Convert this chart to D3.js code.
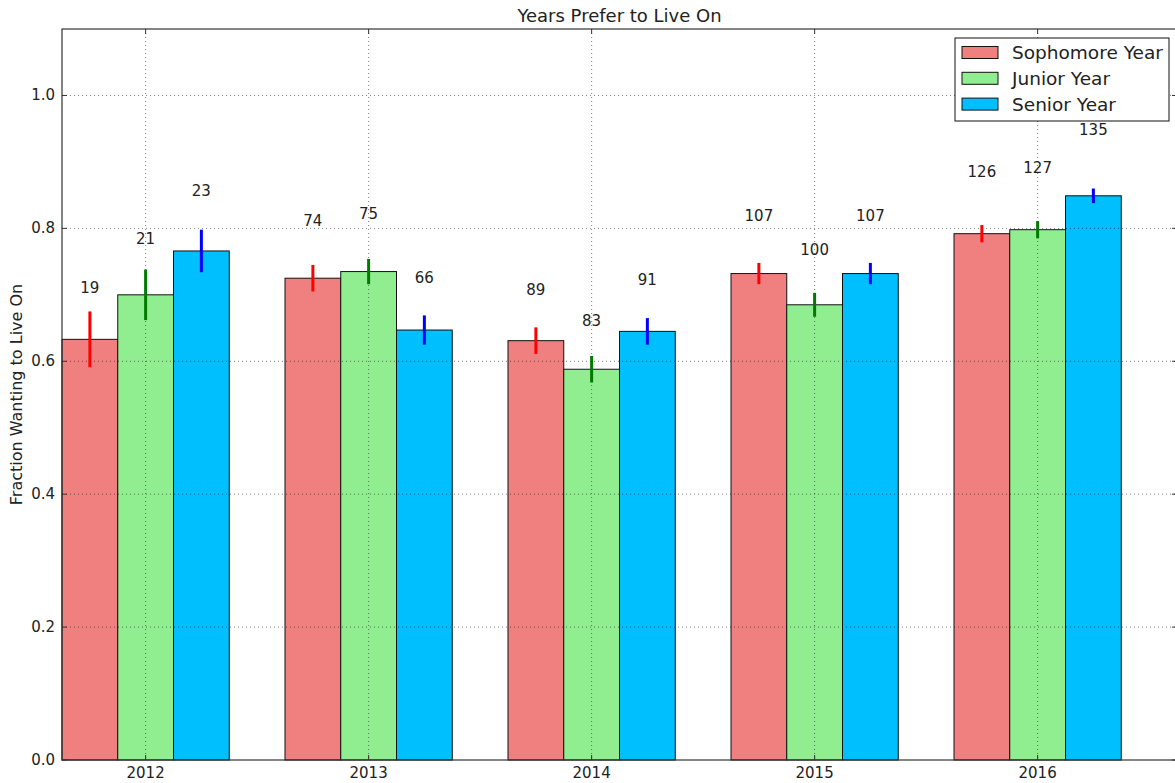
<!DOCTYPE html>
<html>
<head>
<meta charset="utf-8">
<script src="https://cdn.jsdelivr.net/npm/d3@7"></script>
<style>
  body { margin: 0; background: #fff; }
  text { font-family: "DejaVu Sans", sans-serif; fill: #222; }
</style>
</head>
<body>
<svg id="chart" width="1175" height="783"></svg>
<script>
// data
var years = ["2012", "2013", "2014", "2015", "2016"];
var seriesNames = ["Sophomore Year", "Junior Year", "Senior Year"];
var sophomore = [0.633, 0.725, 0.631, 0.732, 0.792];
var junior = [0.700, 0.735, 0.588, 0.685, 0.798];
var senior = [0.766, 0.647, 0.645, 0.732, 0.849];
var sophomoreErr = [0.042, 0.020, 0.020, 0.016, 0.013];
var juniorErr = [0.038, 0.019, 0.020, 0.018, 0.013];
var seniorErr = [0.032, 0.022, 0.020, 0.016, 0.011];
var sophomoreN = [19, 74, 89, 107, 126];
var juniorN = [21, 75, 83, 100, 127];
var seniorN = [23, 66, 91, 107, 135];
var yTicks = [0.0, 0.2, 0.4, 0.6, 0.8, 1.0];

var fills = ["#f08080", "#90ee90", "#00bfff"];
var errColors = ["#ff0000", "#007a00", "#0000ff"];
var barWidth = 0.25;

var series = [
  {name: seriesNames[0], values: sophomore, err: sophomoreErr, n: sophomoreN},
  {name: seriesNames[1], values: junior, err: juniorErr, n: juniorN},
  {name: seriesNames[2], values: senior, err: seniorErr, n: seniorN}
];

// plot box (window.top is reserved, so own names here)
var plotL = 62, plotT = 29, plotR = 1177, plotB = 760;
var svg = d3.select("#chart");

var x = d3.scaleLinear().domain([0, years.length]).range([plotL, plotR]);
var y = d3.scaleLinear().domain([0, 1.1]).range([plotB, plotT]);

// bars
series.forEach(function(s, k) {
  var g = svg.append("g");
  g.selectAll("rect").data(s.values).enter().append("rect")
    .attr("x", function(d, i) { return x(i + k * barWidth); })
    .attr("width", x(barWidth) - x(0))
    .attr("y", function(d) { return y(d); })
    .attr("height", function(d) { return y(0) - y(d); })
    .attr("fill", fills[k])
    .attr("stroke", "#111").attr("stroke-width", 1);
});

// grid drawn over the bars, as in the picture
var grid = svg.append("g")
  .attr("stroke", "#000").attr("stroke-opacity", 0.5).attr("stroke-dasharray", "1,3");
grid.selectAll("line.gy").data(yTicks.slice(1)).enter().append("line")
  .attr("x1", plotL).attr("x2", plotR)
  .attr("y1", function(d) { return y(d); }).attr("y2", function(d) { return y(d); });
grid.selectAll("line.gx").data(years).enter().append("line")
  .attr("x1", function(d, i) { return x(i + 1.5 * barWidth); })
  .attr("x2", function(d, i) { return x(i + 1.5 * barWidth); })
  .attr("y1", plotT).attr("y2", plotB);

// error bars and counts
series.forEach(function(s, k) {
  var g = svg.append("g");
  g.selectAll("line").data(s.values).enter().append("line")
    .attr("x1", function(d, i) { return x(i + (k + 0.5) * barWidth); })
    .attr("x2", function(d, i) { return x(i + (k + 0.5) * barWidth); })
    .attr("y1", function(d, i) { return y(d - s.err[i]); })
    .attr("y2", function(d, i) { return y(d + s.err[i]); })
    .attr("stroke", errColors[k]).attr("stroke-width", 3);
  g.selectAll("text").data(s.values).enter().append("text")
    .attr("x", function(d, i) { return x(i + (k + 0.5) * barWidth); })
    .attr("y", function(d) { return y(d * 1.1) - 4; })
    .attr("text-anchor", "middle")
    .style("font-size", "15px")
    .text(function(d, i) { return s.n[i]; });
});

// frame
svg.append("rect").attr("x", plotL).attr("y", plotT)
  .attr("width", plotR - plotL).attr("height", plotB - plotT)
  .attr("fill", "none").attr("stroke", "#333").attr("stroke-width", 1.2);

// ticks (inside, classic style)
var ticks = svg.append("g").attr("stroke", "#333");
yTicks.forEach(function(t) {
  ticks.append("line").attr("x1", plotL).attr("x2", plotL + 5).attr("y1", y(t)).attr("y2", y(t));
  ticks.append("line").attr("x1", plotR - 5).attr("x2", plotR).attr("y1", y(t)).attr("y2", y(t));
});
years.forEach(function(yr, i) {
  var cx = x(i + 1.5 * barWidth);
  ticks.append("line").attr("x1", cx).attr("x2", cx).attr("y1", plotB).attr("y2", plotB - 5);
  ticks.append("line").attr("x1", cx).attr("x2", cx).attr("y1", plotT).attr("y2", plotT + 5);
});

// tick labels
svg.append("g").selectAll("text").data(yTicks).enter().append("text")
  .attr("x", plotL - 7).attr("y", function(d) { return y(d) + 5; })
  .attr("text-anchor", "end").style("font-size", "15px")
  .text(function(d) { return d.toFixed(1); });
svg.append("g").selectAll("text").data(years).enter().append("text")
  .attr("x", function(d, i) { return x(i + 1.5 * barWidth); })
  .attr("y", 778)
  .attr("text-anchor", "middle").style("font-size", "15px")
  .text(function(d) { return d; });

// title and axis label
svg.append("text").attr("x", (plotL + plotR) / 2).attr("y", 22)
  .attr("text-anchor", "middle").style("font-size", "18px")
  .text("Years Prefer to Live On");
svg.append("text")
  .attr("transform", "translate(22," + ((plotT + plotB) / 2) + ") rotate(-90)")
  .attr("text-anchor", "middle").style("font-size", "16px")
  .text("Fraction Wanting to Live On");

// legend
var legend = svg.append("g").attr("transform", "translate(955,38)");
legend.append("rect").attr("width", 214).attr("height", 83)
  .attr("fill", "#fff").attr("stroke", "#111").attr("stroke-width", 1);
seriesNames.forEach(function(name, k) {
  legend.append("rect").attr("x", 7).attr("y", 8.5 + k * 25.8)
    .attr("width", 36).attr("height", 12)
    .attr("fill", fills[k]).attr("stroke", "#111").attr("stroke-width", 1);
  legend.append("text").attr("x", 57).attr("y", 21 + k * 25.8)
    .style("font-size", "18.5px").text(name);
});
</script>
</body>
</html>
